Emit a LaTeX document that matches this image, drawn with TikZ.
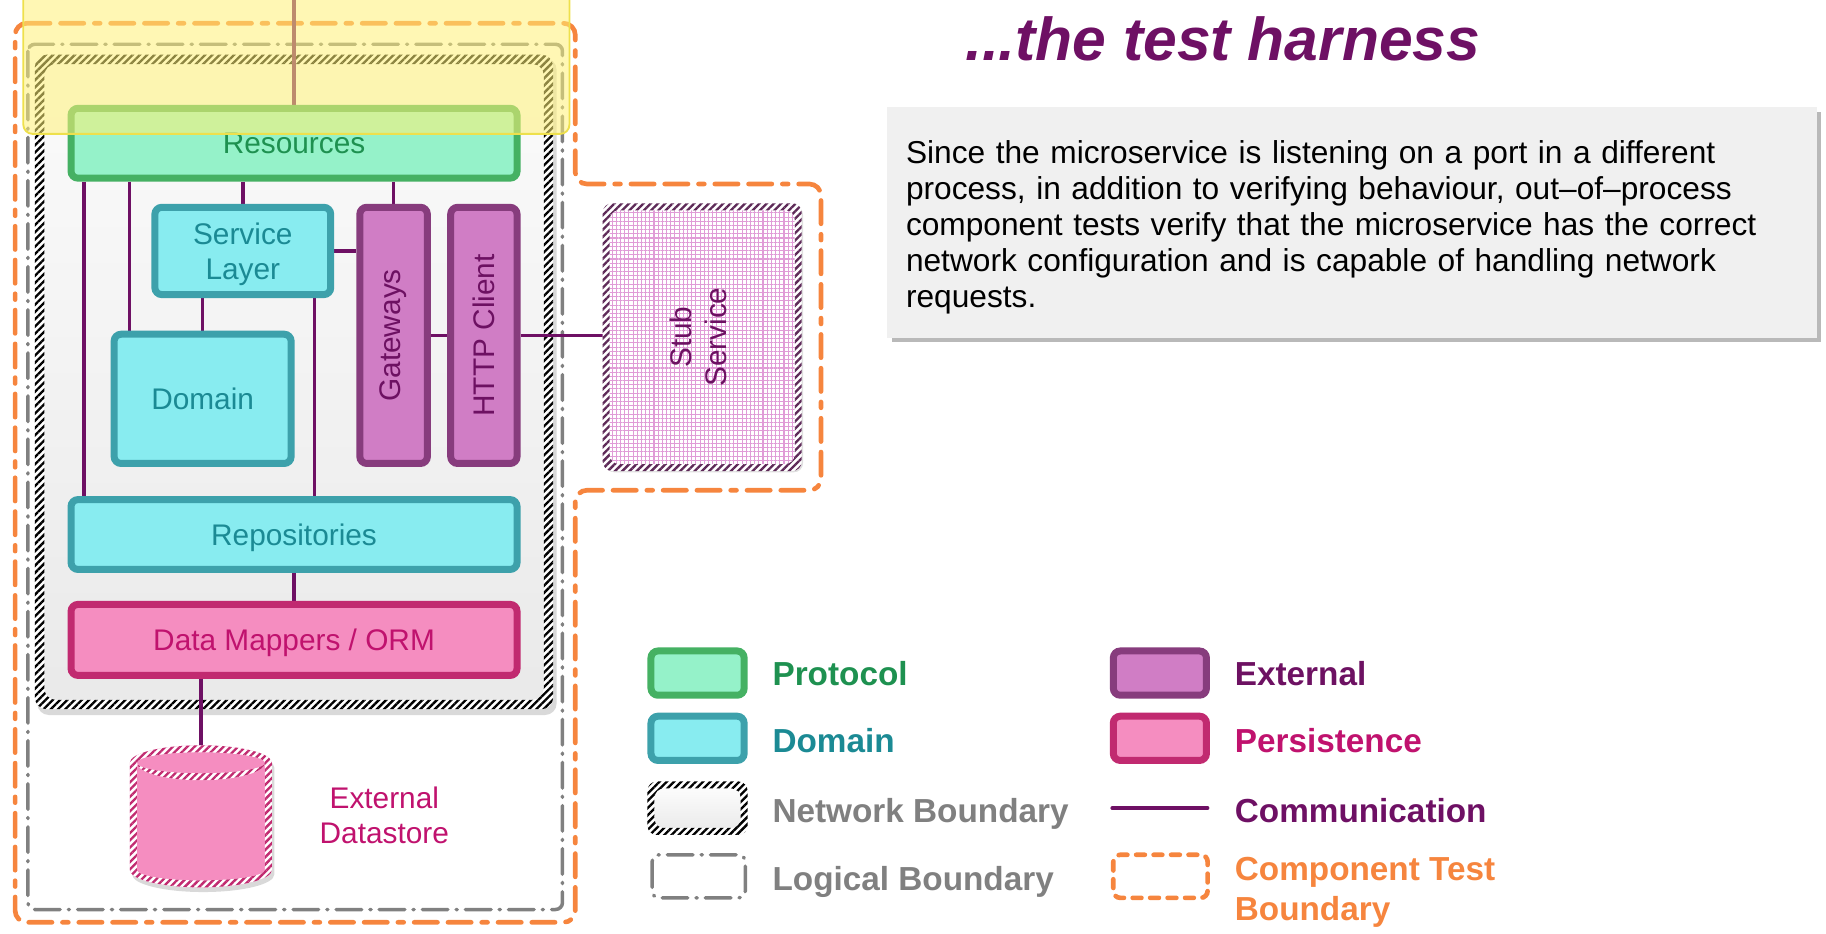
\documentclass[tikz,border=0pt]{standalone}
\usepackage{fontspec}
\setmainfont{Liberation Sans}
\usepackage{xcolor}
\usepackage{graphicx}
\usepackage{tikz}
\usetikzlibrary{patterns.meta,shadows}

% colours
\definecolor{protfill}{HTML}{95F2C9}
\definecolor{protline}{HTML}{45B163}
\definecolor{prottext}{HTML}{1E9150}
\definecolor{domfill}{HTML}{88ECF0}
\definecolor{domline}{HTML}{3DA1AB}
\definecolor{domtext}{HTML}{1B8A94}
\definecolor{extfill}{HTML}{D07DC5}
\definecolor{extline}{HTML}{873C7D}
\definecolor{exttext}{HTML}{6D1162}
\definecolor{persfill}{HTML}{F58DC0}
\definecolor{persline}{HTML}{C12A70}
\definecolor{perstext}{HTML}{C0126E}
\definecolor{commline}{HTML}{6E1064}
\definecolor{testline}{HTML}{F6853E}
\definecolor{logicline}{HTML}{808080}
\definecolor{notefill}{HTML}{F0F0F0}
\definecolor{hilitefill}{HTML}{FFF176}
\definecolor{hiliteline}{HTML}{EEE04C}
\definecolor{stubgrid}{HTML}{E09CD7}
\definecolor{stubline}{HTML}{5E2A58}

\newcommand{\boxfont}{\fontsize{12.8pt}{15pt}\selectfont}
\newcommand{\legendfont}{\fontsize{14.3pt}{17pt}\selectfont\bfseries}
\newcommand{\notefont}{\fontsize{13.6pt}{15.5pt}\selectfont}
\newcommand{\titlefont}{\fontsize{26pt}{30pt}\selectfont\bfseries\itshape}

\pgfdeclarelayer{background}
\pgfsetlayers{background,main}

\begin{document}
\begin{tikzpicture}[x=0.5pt, y=-0.5pt,
  layerbox/.style={line width=3pt, rounded corners=3pt, inner sep=0pt, font=\boxfont, text depth=0pt,
    drop shadow={shadow xshift=0.8pt, shadow yshift=-0.8pt, opacity=0.25}},
  protbox/.style={layerbox, draw=protline, fill=protfill, text=prottext},
  dombox/.style={layerbox, draw=domline, fill=domfill, text=domtext},
  extbox/.style={layerbox, draw=extline, fill=extfill, text=exttext},
  persbox/.style={layerbox, draw=persline, fill=persfill, text=perstext},
  comm/.style={draw=commline, line width=1.5pt},
  testbound/.style={draw=testline, line width=2pt, line cap=round,
    dash pattern=on 10pt off 4.5pt on 10pt off 4.5pt on 2.5pt off 4.5pt},
  logicbound/.style={draw=logicline, line width=1.5pt, line cap=round,
    dash pattern=on 11pt off 3.5pt on 0.5pt off 3.5pt},
  stripes/.style={pattern={Lines[angle=45,distance=2.2pt,line width=1pt]}},
  legendtext/.style={anchor=west, inner sep=0pt, font=\legendfont, align=left},
  swatch/.style={minimum width=40pt, minimum height=19pt}]
\useasboundingbox (0,0) rectangle (1568,802);

% Boundaries
\begin{pgfonlayer}{background}
\draw[testbound, rounded corners=5pt] (13,20) -- (494,20) -- (494,158) -- (705,158) -- (705,421) -- (494,421) -- (494,792) -- (13,792) -- cycle;
\draw[logicbound, rounded corners=3pt] (24,38) rectangle (483,781);
\fill[black, opacity=0.15, rounded corners=5pt] (32,50) rectangle (478,614);
\shade[top color=gray!3, bottom color=gray!17, rounded corners=5pt] (30,47) rectangle (475,609);
\fill[white, even odd rule, rounded corners=5pt] (30,47) rectangle (475,609) (38,55) rectangle (467,601);
\fill[stripes, pattern color=black, even odd rule, rounded corners=5pt] (30,47) rectangle (475,609) (38,55) rectangle (467,601);
\end{pgfonlayer}

% Layers
\node[protbox, minimum width=191.5pt, minimum height=30pt] (res) at (252.5,123) {Resources};
\node[dombox, minimum width=75.5pt, minimum height=37.5pt, align=center] (svc) at (208.5,215.5) {Service\\Layer};
\node[dombox, minimum width=76pt, minimum height=55.5pt] (dom) at (174,342.5) {Domain};
\node[extbox, minimum width=29pt, minimum height=110pt] (gw) at (338,288) {\rotatebox{90}{Gateways}};
\node[extbox, minimum width=28.5pt, minimum height=110pt] (http) at (415.5,288) {\rotatebox{90}{HTTP Client}};
\node[dombox, minimum width=191.5pt, minimum height=30pt] (repo) at (252.5,459) {Repositories};
\node[persbox, minimum width=191.5pt, minimum height=30.5pt] (orm) at (252.5,549.5) {Data Mappers / ORM};

% Stub service
\node[minimum width=85pt, minimum height=114.5pt, inner sep=0pt, rounded corners=4pt,
  drop shadow={shadow xshift=0.8pt, shadow yshift=-0.8pt, opacity=0.25}, preaction={fill=white},
  pattern={Hatch[angle=0,distance=1.8pt,line width=0.45pt]}, pattern color=stubgrid,
  text=exttext, font=\boxfont] (stub) at (603,289.5)
  {\rotatebox{90}{\begin{tabular}{@{}c@{}}Stub\\Service\end{tabular}}};
\fill[white, even odd rule, rounded corners=4pt] (stub.north west) rectangle (stub.south east)
  ([shift={(3pt,-3pt)}]stub.north west) rectangle ([shift={(-3pt,3pt)}]stub.south east);
\fill[stripes, pattern color=stubline, even odd rule, rounded corners=4pt] (stub.north west) rectangle (stub.south east)
  ([shift={(3pt,-3pt)}]stub.north west) rectangle ([shift={(-3pt,3pt)}]stub.south east);

% Datastore
\fill[black, opacity=0.15] (113.5,659) arc[start angle=180,end angle=360,x radius=61,y radius=15] -- (235.5,751) arc[start angle=0,end angle=180,x radius=61,y radius=15] -- cycle;
\fill[persfill] (111.5,655) arc[start angle=180,end angle=360,x radius=61,y radius=15] -- (233.5,747) arc[start angle=0,end angle=180,x radius=61,y radius=15] -- cycle;
\fill[white, even odd rule] (111.5,655) arc[start angle=180,end angle=360,x radius=61,y radius=15] -- (233.5,747) arc[start angle=0,end angle=180,x radius=61,y radius=15] -- cycle
  (172.5,655) ellipse[x radius=55,y radius=9]
  (117.5,655) arc[start angle=180,end angle=0,x radius=55,y radius=15] -- (227.5,747) arc[start angle=0,end angle=180,x radius=55,y radius=9] -- cycle;
\fill[stripes, pattern color=persline, even odd rule] (111.5,655) arc[start angle=180,end angle=360,x radius=61,y radius=15] -- (233.5,747) arc[start angle=0,end angle=180,x radius=61,y radius=15] -- cycle
  (172.5,655) ellipse[x radius=55,y radius=9]
  (117.5,655) arc[start angle=180,end angle=0,x radius=55,y radius=15] -- (227.5,747) arc[start angle=0,end angle=180,x radius=55,y radius=9] -- cycle;
\coordinate (dbtop) at (172.5,642);
\node[font=\boxfont, text=perstext, align=center] (dblabel) at (330,700) {External\\Datastore};

% Communication
\coordinate (entry) at (252.5,0);
\coordinate (svcrepo) at ([xshift=30.75pt]svc.south);
\begin{pgfonlayer}{background}
\draw[comm] (entry) -- (res.north);
\draw[comm] ([xshift=-90.25pt]res.south) -- ([xshift=-90.25pt]repo.north);
\draw[comm] ([xshift=-70.75pt]res.south) -- ([xshift=-31.5pt]dom.north);
\draw[comm] (res.south -| svc.north) -- (svc.north);
\draw[comm] (res.south -| gw.north) -- (gw.north);
\draw[comm] (svc.south -| dom.north) -- (dom.north);
\draw[comm] (svcrepo) -- (svcrepo |- repo.north);
\draw[comm] (svc.east) -- (svc.east -| gw.west);
\draw[comm] (gw.east) -- (http.west);
\draw[comm] (http.east) -- (http.east -| stub.west);
\draw[comm] (repo.south) -- (orm.north);
\draw[comm] ([xshift=-40pt]orm.south) -- (dbtop);
\end{pgfonlayer}

% Highlight
\draw[draw=hiliteline, fill=hilitefill, fill opacity=0.55, line width=0.8pt, rounded corners=4pt] (20,-10) rectangle (489,115);

% Title and note
\node[font=\titlefont, text=commline] (title) at (1050,33) {...the test harness};
\node[fill=notefill, minimum width=399pt, minimum height=99pt, text width=383pt, inner xsep=8pt, align=left, font=\notefont,
  drop shadow={shadow xshift=2pt, shadow yshift=-2pt, opacity=0.55}] (note) at (1161,191)
  {\rule{0pt}{14pt}Since the microservice is listening on a port in a different\\
   process, in addition to verifying behaviour, out–of–process\\
   component tests verify that the microservice has the correct\\
   network configuration and is capable of handling network\\
   requests.};

% Legend
\node[protbox, swatch] (lgprot) at (599,578) {};
\node[legendtext, text=prottext] (lgprottext) at (663,578) {Protocol};
\node[dombox, swatch] (lgdom) at (599,634) {};
\node[legendtext, text=domtext] (lgdomtext) at (663,636) {Domain};
\shade[top color=white, bottom color=gray!18, rounded corners=4pt] (556,671) rectangle (642,717);
\fill[white, even odd rule, rounded corners=4pt] (556,671) rectangle (642,717) (562,677) rectangle (636,711);
\fill[stripes, pattern color=black, even odd rule, rounded corners=4pt] (556,671) rectangle (642,717) (562,677) rectangle (636,711);
\node[legendtext, text=logicline] (lgnettext) at (663,699) {Network Boundary};
\draw[logicbound, rounded corners=3pt] (560,734) rectangle (640,771);
\node[legendtext, text=logicline] (lglogtext) at (663,757) {Logical Boundary};
\node[extbox, swatch] (lgext) at (996,578) {};
\node[legendtext, text=exttext] (lgexttext) at (1060,578) {External};
\node[persbox, swatch] (lgpers) at (996,634) {};
\node[legendtext, text=perstext] (lgperstext) at (1060,636) {Persistence};
\coordinate (lgcommA) at (955,694);
\coordinate (lgcommB) at (1037,694);
\draw[comm, line cap=round] (lgcommA) -- (lgcommB);
\node[legendtext, text=commline] (lgcommtext) at (1060,696) {Communication};
\draw[draw=testline, line width=2pt, line cap=round, dash pattern=on 3.75pt off 3.75pt, rounded corners=3pt] (956,734) rectangle (1037,771);
\node[legendtext, text=testline] (lgtesttext) at (1060,766) {Component Test\\Boundary};
\end{tikzpicture}
\end{document}
